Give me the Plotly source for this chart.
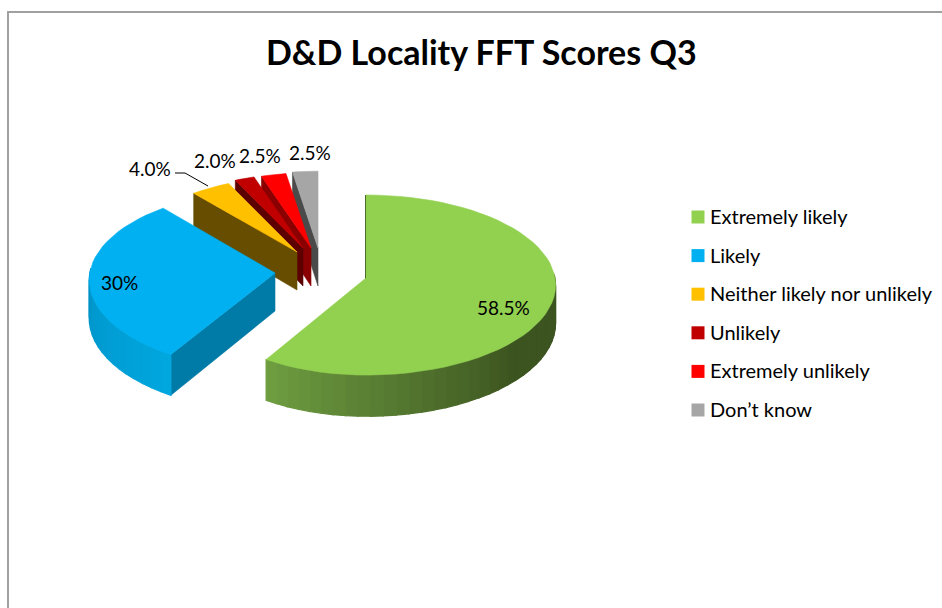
import math
import plotly.graph_objects as go

categories = ["Extremely likely", "Likely", "Neither likely nor unlikely", "Unlikely", "Extremely unlikely", "Don’t know"]
values = [58.5, 30, 4.0, 2.0, 2.5, 2.5]
value_labels = ["58.5%", "30%", "4.0%", "2.0%", "2.5%", "2.5%"]
top_colors = ["#92D050", "#00B0F0", "#FFC000", "#C00000", "#FF0000", "#A6A6A6"]
cut_colors = ["#2F4219", "#007AA6", "#664D00", "#5C0000", "#8A0000", "#4A4A4A"]
wall_from = [(112, 160, 66), (0, 146, 198), (120, 90, 0), (90, 0, 0), (130, 0, 0), (80, 80, 80)]
wall_to = [(60, 84, 32), (0, 166, 222), (120, 90, 0), (90, 0, 0), (130, 0, 0), (80, 80, 80)]

# layout of the exploded 3-D pie, in pixels of the page
apex_x = [366, 275, 297, 303, 311, 318]
apex_y = [278, 273, 252, 248, 248, 248]
radius_scale = [1, 1, 0.9, 0.89, 0.9, 0.92]
left_scale = [0.94, 0.98, 1, 1, 1, 1]
RX, RY, PERSP, DEPTH = 189, 89.5, 0.078, 38
label_x = [503, 119, 150, 215, 260, 310]
label_y = [307, 282, 168, 160, 155, 152]
LEADER_X = [175, 185, 208]
LEADER_Y = [173, 173, 186]
LEGEND_MARK_X, LEGEND_TEXT_X, LEGEND_TOP, LEGEND_STEP = 698, 708, 217, 38.6

total = sum(values)


def project(i, theta, r=1.0, down=0.0):
    X = math.sin(theta) * r * radius_scale[i]
    Y = math.cos(theta) * r * radius_scale[i]
    s = 1 / (1 + PERSP * Y)
    if X < 0:
        X *= left_scale[i]
    return apex_x[i] + RX * X * s, apex_y[i] - RY * Y * s + down * s


def rgb(c):
    return "rgb(%d,%d,%d)" % tuple(round(v) for v in c)


def poly(fig, pts, color, width=0.6):
    fig.add_trace(go.Scatter(
        x=[p[0] for p in pts] + [pts[0][0]], y=[p[1] for p in pts] + [pts[0][1]],
        mode="lines", fill="toself", fillcolor=color, line=dict(color=color, width=width),
        hoverinfo="skip", showlegend=False))


fig = go.Figure()
starts = []
acc = 0.0
for v in values:
    starts.append(acc)
    acc += v
for i in reversed(range(len(values))):
    a0 = starts[i] / total * 2 * math.pi
    a1 = (starts[i] + values[i]) / total * 2 * math.pi
    n = max(4, int(values[i]))
    thetas = [a0 + (a1 - a0) * k / n for k in range(n + 1)]
    # cut face on the leading edge
    poly(fig, [project(i, a0, 0), project(i, a0), project(i, a0, 1, DEPTH), project(i, a0, 0, DEPTH)], cut_colors[i],
         2 if i == 0 else 0.6)
    # outer wall with shading
    front = [t for t in thetas if math.cos(t) < PERSP]
    if len(front) > 1:
        for k in range(len(front) - 1):
            f = k / (len(front) - 1)
            if i == 0:
                g = max(0.0, (f - 0.35) / 0.65)
                c = tuple(wall_to[i][j] + (wall_from[i][j] - wall_to[i][j]) * g for j in range(3))
            else:
                c = tuple(wall_from[i][j] + (wall_to[i][j] - wall_from[i][j]) * (1 - f) for j in range(3))
            t0, t1 = front[k], front[k + 1]
            poly(fig, [project(i, t0), project(i, t1), project(i, t1, 1, DEPTH), project(i, t0, 1, DEPTH)], rgb(c), 1.2)
    # top face
    poly(fig, [project(i, a0, 0)] + [project(i, t) for t in thetas], top_colors[i])

# legend
fig.add_trace(go.Scatter(
    x=[LEGEND_MARK_X] * len(categories), y=[LEGEND_TOP + LEGEND_STEP * k for k in range(len(categories))],
    mode="markers", marker=dict(symbol="square", size=13, color=top_colors), hoverinfo="skip", showlegend=False))
for k, cat in enumerate(categories):
    fig.add_annotation(x=LEGEND_TEXT_X, y=LEGEND_TOP - 1 + LEGEND_STEP * k, text=cat, showarrow=False, xanchor="left",
                       font=dict(family="Lato", size=20, color="#000000"))

# leader line
fig.add_trace(go.Scatter(x=LEADER_X, y=LEADER_Y, mode="lines", line=dict(color="#000000", width=1),
                         hoverinfo="skip", showlegend=False))

for x, y, t in zip(label_x, label_y, value_labels):
    fig.add_annotation(x=x, y=y, text=t, showarrow=False, font=dict(family="Lato", size=19, color="#000000"))

fig.add_annotation(x=481, y=51, text="<b>D&D Locality FFT Scores Q3</b>", showarrow=False,
                   font=dict(family="Lato", size=34, color="#000000"))
fig.add_shape(type="rect", x0=8, y0=12, x1=1000, y1=1000, line=dict(color="#A0A0A0", width=2), fillcolor="rgba(0,0,0,0)")

fig.update_layout(
    width=942, height=608, margin=dict(l=0, r=0, t=0, b=0),
    paper_bgcolor="#FFFFFF", plot_bgcolor="#FFFFFF",
    xaxis=dict(range=[0, 942], visible=False, fixedrange=True),
    yaxis=dict(range=[608, 0], visible=False, fixedrange=True),
    showlegend=False,
)
fig.write_html("out.html", config={"displayModeBar": False},
               post_script="document.body.style.margin='0';document.body.style.overflow='hidden';")
